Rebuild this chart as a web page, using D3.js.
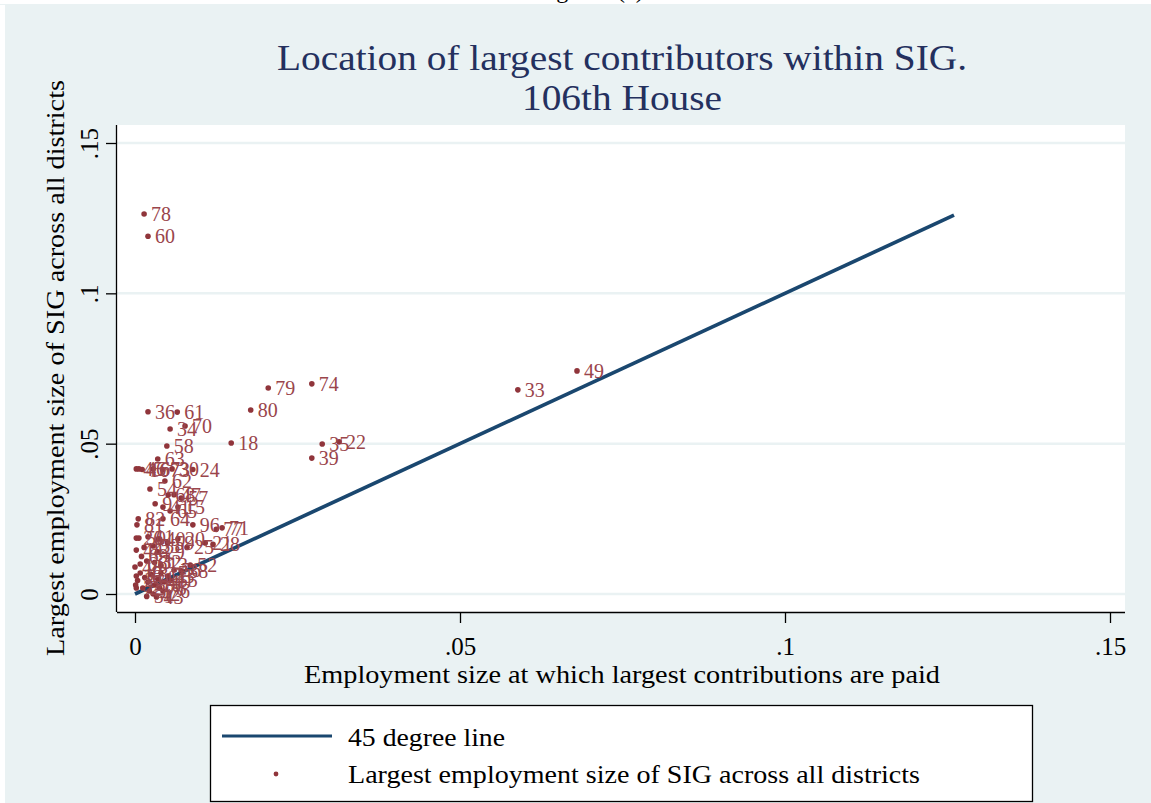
<!DOCTYPE html>
<html>
<head>
<meta charset="utf-8">
<script src="https://cdn.jsdelivr.net/npm/d3@7"></script>
<style>
  body { margin: 0; background: #fff; }
  svg { display: block; }
  text { font-family: "Liberation Serif", "DejaVu Serif", serif; }
</style>
</head>
<body>
<svg id="chart"></svg>
<script>
const width = 1151;
const height = 803;

// district / SIG ids, x = employment size where largest contributions paid, y = largest size across districts
const labels = [78, 60, 79, 74, 80, 36, 61, 70, 34, 58, 18, 33, 49, 35, 22, 39,
  63, 45, 46, 16, 67, 73, 30, 24, 62, 54, 68, 57, 47, 9, 15, 41, 65, 64, 96, 71, 77,
  26, 50, 11, 40, 20, 59, 21, 28, 53, 12, 44, 29, 25, 52, 38, 31, 32, 13, 48,
  1, 2, 3, 4, 6, 7, 8, 10, 14, 17, 19, 23, 27, 37, 42, 43, 51, 55, 56, 66, 69, 72, 75, 76, 81, 82];
const xValues = [0.0014, 0.0020, 0.0205, 0.0272, 0.0178, 0.0020, 0.0065, 0.0077, 0.0054, 0.0049, 0.0148, 0.0589, 0.0680, 0.0288, 0.0314, 0.0272,
  0.0035, 0.0002, 0.0006, 0.0011, 0.0028, 0.0043, 0.0057, 0.0089, 0.0046, 0.0023, 0.0051, 0.0071, 0.0060, 0.0031, 0.0066, 0.0043, 0.0054, 0.0043, 0.0089, 0.0134, 0.0125,
  0.0002, 0.0006, 0.0020, 0.0036, 0.0066, 0.0050, 0.0108, 0.0120, 0.0028, 0.0014, 0.0002, 0.0035, 0.0080, 0.0085, 0.0071, 0.0018, 0.0030, 0.0040, 0.0000,
  0.0002, 0.0004, 0.0001, 0.0008, 0.0015, 0.0020, 0.0025, 0.0030, 0.0035, 0.0040, 0.0045, 0.0050, 0.0012, 0.0022, 0.0028, 0.0033, 0.0018, 0.0055, 0.0060, 0.0008, 0.0010, 0.0002, 0.0038, 0.0043, 0.0003, 0.0005];
const yValues = [0.1264, 0.1190, 0.0685, 0.0699, 0.0612, 0.0606, 0.0605, 0.0559, 0.0549, 0.0492, 0.0502, 0.0679, 0.0742, 0.0499, 0.0506, 0.0452,
  0.0449, 0.0416, 0.0416, 0.0414, 0.0416, 0.0413, 0.0416, 0.0414, 0.0376, 0.0349, 0.0329, 0.0319, 0.0330, 0.0300, 0.0289, 0.0289, 0.0276, 0.0250, 0.0230, 0.0220, 0.0215,
  0.0186, 0.0186, 0.0190, 0.0183, 0.0183, 0.0170, 0.0170, 0.0165, 0.0160, 0.0155, 0.0146, 0.0140, 0.0155, 0.0096, 0.0077, 0.0110, 0.0105, 0.0095, 0.0090,
  0.0060, 0.0045, 0.0030, 0.0070, 0.0055, 0.0040, 0.0065, 0.0030, 0.0050, 0.0070, 0.0040, 0.0060, 0.0020, 0.0010, 0.0000, -0.0010, -0.0008, 0.0045, 0.0080, 0.0100, 0.0125, 0.0020, 0.0020, 0.0010, 0.0230, 0.0250];

const lineValues = [0, 0.126];
const tickValues = [0, 0.05, 0.1, 0.15];
const tickLabels = ["0", ".05", ".1", ".15"];

const bg = "#eaf2f3";
const navy = "#1a476f";
const maroon = "#90353b";

const svg = d3.select("#chart")
  .attr("width", width)
  .attr("height", height);

// outer background
svg.append("rect").attr("x", 0).attr("y", 0).attr("width", width).attr("height", height).attr("fill", "#fff");
svg.append("rect").attr("x", 5).attr("y", 4).attr("width", width - 5).attr("height", height - 4).attr("fill", bg);

// figure caption, cut off at the top like the source
svg.append("text")
  .attr("x", 590).attr("y", -2)
  .attr("text-anchor", "middle")
  .attr("font-size", 24)
  .text("Figure 4(a)");
svg.append("rect").attr("x", 0).attr("y", 4).attr("width", width).attr("height", 1).attr("fill", bg);

const plotLeft = 117, plotRight = 1125, plotTop = 125, plotBottom = 612;

const xScale = d3.scaleLinear().domain([0, 0.15]).range([135, 1110]);
const yScale = d3.scaleLinear().domain([0, 0.15]).range([594, 143]);

svg.append("rect")
  .attr("x", plotLeft).attr("y", plotTop)
  .attr("width", plotRight - plotLeft).attr("height", plotBottom - plotTop)
  .attr("fill", "#fff");

// grid lines
svg.selectAll(".grid")
  .data(tickValues).enter().append("line")
  .attr("x1", plotLeft).attr("x2", plotRight)
  .attr("y1", d => yScale(d)).attr("y2", d => yScale(d))
  .attr("stroke", bg).attr("stroke-width", 2.5);

// axes
const fmt = d => tickLabels[tickValues.indexOf(d)];

const xAxis = svg.append("g")
  .attr("transform", `translate(0,${plotBottom})`)
  .call(d3.axisBottom(xScale).tickValues(tickValues).tickFormat(fmt).tickSize(11).tickPadding(14));
xAxis.select(".domain").attr("d", `M${plotLeft},0.5H${plotRight}`).attr("stroke-width", 1.3);
xAxis.selectAll(".tick line").attr("stroke-width", 1.3);
xAxis.selectAll("text").attr("font-size", 25).attr("font-family", "Liberation Serif").attr("fill", "#000");

const yAxis = svg.append("g")
  .attr("transform", `translate(${plotLeft},0)`)
  .call(d3.axisLeft(yScale).tickValues(tickValues).tickFormat(fmt).tickSize(11).tickPadding(14));
yAxis.select(".domain").attr("d", `M-0.5,${plotTop}V${plotBottom}`).attr("stroke-width", 1.3);
yAxis.selectAll(".tick line").attr("stroke-width", 1.3);
yAxis.selectAll(".tick text").each(function() {
  d3.select(this)
    .attr("font-size", 25).attr("font-family", "Liberation Serif").attr("fill", "#000")
    .attr("text-anchor", "middle")
    .attr("transform", "translate(-22,0) rotate(-90)")
    .attr("x", 0).attr("y", 0).attr("dy", "0.1em");
});

// 45 degree line
const line = d3.line().x(d => xScale(d)).y(d => yScale(d));
svg.append("path")
  .attr("d", line(lineValues))
  .attr("fill", "none")
  .attr("stroke", navy)
  .attr("stroke-width", 3.7);

// points
const points = labels.map((l, i) => ({ label: l, x: xValues[i], y: yValues[i] }));

svg.selectAll(".dot")
  .data(points).enter().append("circle")
  .attr("cx", d => xScale(d.x))
  .attr("cy", d => yScale(d.y))
  .attr("r", 2.8)
  .attr("fill", maroon);

svg.selectAll(".lbl")
  .data(points).enter().append("text")
  .attr("x", d => xScale(d.x) + 7)
  .attr("y", d => yScale(d.y))
  .attr("dy", "0.35em")
  .attr("font-size", 20)
  .attr("fill", "#9a454b")
  .text(d => d.label);

// titles
svg.append("text")
  .attr("x", 622).attr("y", 70)
  .attr("text-anchor", "middle")
  .attr("font-size", 35)
  .attr("fill", "#24305e")
  .attr("textLength", 690).attr("lengthAdjust", "spacingAndGlyphs")
  .text("Location of largest contributors within SIG.");
svg.append("text")
  .attr("x", 622).attr("y", 110)
  .attr("text-anchor", "middle")
  .attr("font-size", 35)
  .attr("fill", "#24305e")
  .attr("textLength", 200).attr("lengthAdjust", "spacingAndGlyphs")
  .text("106th House");

svg.append("text")
  .attr("x", 622).attr("y", 683)
  .attr("text-anchor", "middle")
  .attr("font-size", 26)
  .attr("textLength", 636).attr("lengthAdjust", "spacingAndGlyphs")
  .text("Employment size at which largest contributions are paid");

svg.append("text")
  .attr("transform", "translate(64,368) rotate(-90)")
  .attr("text-anchor", "middle")
  .attr("font-size", 26)
  .attr("textLength", 576).attr("lengthAdjust", "spacingAndGlyphs")
  .text("Largest employment size of SIG across all districts");

// legend
const legend = svg.append("g");
legend.append("rect")
  .attr("x", 210.5).attr("y", 705.5).attr("width", 822).attr("height", 96)
  .attr("fill", "#fff").attr("stroke", "#000").attr("stroke-width", 1.3);
legend.append("line")
  .attr("x1", 222).attr("x2", 332).attr("y1", 736).attr("y2", 736)
  .attr("stroke", navy).attr("stroke-width", 3.2);
legend.append("circle")
  .attr("cx", 276).attr("cy", 774).attr("r", 2.4).attr("fill", maroon);
legend.append("text")
  .attr("x", 348).attr("y", 746)
  .attr("font-size", 26)
  .attr("textLength", 157).attr("lengthAdjust", "spacingAndGlyphs")
  .text("45 degree line");
legend.append("text")
  .attr("x", 348).attr("y", 783)
  .attr("font-size", 26)
  .attr("textLength", 572).attr("lengthAdjust", "spacingAndGlyphs")
  .text("Largest employment size of SIG across all districts");
</script>
</body>
</html>
